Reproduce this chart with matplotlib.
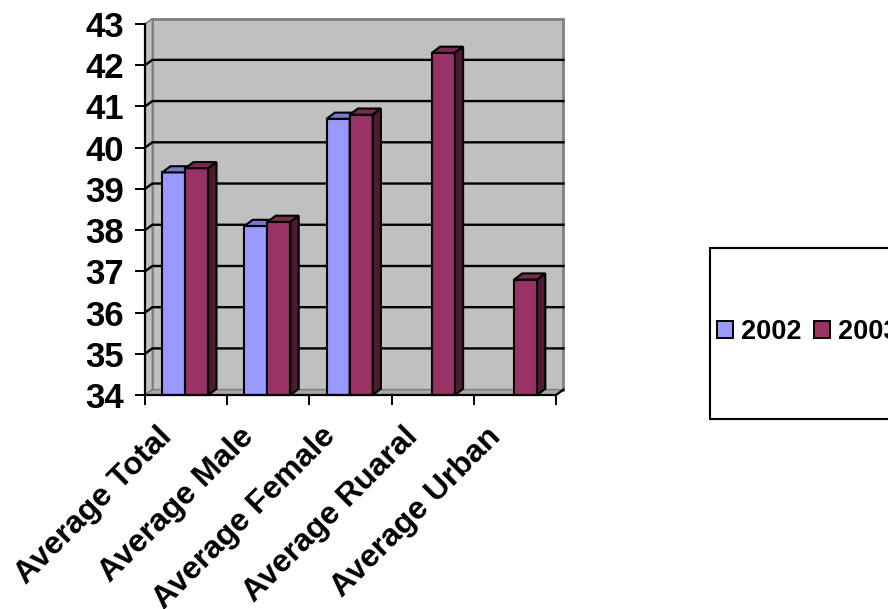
import numpy as np
import matplotlib
matplotlib.use("Agg")
import matplotlib.pyplot as plt
from matplotlib.patches import Polygon, Rectangle, Patch

plt.rcParams['font.family'] = ['Liberation Sans', 'DejaVu Sans']
plt.rcParams['font.weight'] = 'bold'

categories = ["Average Total", "Average Male", "Average Female", "Average Ruaral", "Average Urban"]
series = ["2002", "2003"]
vals_2002 = [39.4, 38.1, 40.7, np.nan, np.nan]
vals_2003 = [39.5, 38.2, 40.8, 42.3, 36.8]
yticks = [34, 35, 36, 37, 38, 39, 40, 41, 42, 43]

front = ["#9999FF", "#993366"]
tops = ["#7777CC", "#7A2952"]
sides = ["#4D4D80", "#4D1A33"]

W, H = 888, 609
fig = plt.figure(figsize=(W / 100, H / 100), dpi=100)
# front plane of the plot area, in pixels
x0, x1, yb, yt = 145, 556, 395, 24
ax = fig.add_axes([x0 / W, 1 - yb / H, (x1 - x0) / W, (yb - yt) / H])
ymin, ymax = 34, 43
n = len(categories)
ax.set_xlim(0, n)
ax.set_ylim(ymin, ymax)
for s in ax.spines.values():
    s.set_visible(False)

# wall depth
wdx, wdy = 0.09, 0.13
# bar depth
bdx, bdy = 0.10, 0.15

wallc = "#C0C0C0"
edgec = "#808080"
# back wall
ax.add_patch(Rectangle((wdx, ymin + wdy), n, ymax - ymin, fc=wallc, ec=edgec, lw=2, zorder=0, clip_on=False))
# left wall
ax.add_patch(Polygon([(0, ymin), (wdx, ymin + wdy), (wdx, ymax + wdy), (0, ymax)],
                     closed=True, fc=wallc, ec=edgec, lw=1.2, zorder=0, clip_on=False))
# floor
ax.add_patch(Polygon([(0, ymin), (n, ymin), (n + wdx, ymin + wdy), (wdx, ymin + wdy)],
                     closed=True, fc="#A8A8A8", ec=edgec, lw=1.2, zorder=0, clip_on=False))

# gridlines on walls
for v in yticks[1:-1]:
    ax.plot([0, wdx, n + wdx], [v, v + wdy, v + wdy], color="black", lw=1.7, zorder=1, clip_on=False)

# bars
bw = 0.28
offs = [0.21, 0.49]
for i in range(n):
    for k, vals in enumerate([vals_2002, vals_2003]):
        h = vals[i]
        if np.isnan(h):
            continue
        a = i + offs[k]
        b = a + bw
        z = 3 + i * 2 + k
        ax.add_patch(Polygon([(a, ymin), (b, ymin), (b, h), (a, h)], closed=True,
                             fc=front[k], ec="black", lw=1.5, zorder=z, clip_on=False))
        ax.add_patch(Polygon([(a, h), (b, h), (b + bdx, h + bdy), (a + bdx, h + bdy)], closed=True,
                             fc=tops[k], ec="black", lw=1.5, zorder=z, clip_on=False))
        ax.add_patch(Polygon([(b, ymin), (b + bdx, ymin + bdy), (b + bdx, h + bdy), (b, h)], closed=True,
                             fc=sides[k], ec="black", lw=1.5, zorder=z, clip_on=False))

# axes lines
ax.plot([0, 0], [ymin, ymax], color="black", lw=1.6, zorder=20, clip_on=False)
ax.plot([0, n, n + wdx], [ymin, ymin, ymin + wdy], color="black", lw=1.6, zorder=20, clip_on=False)

ax.set_yticks(yticks)
ax.set_yticklabels([str(t) for t in yticks], fontsize=25, fontweight='bold')
ax.tick_params(axis='y', length=7, width=1.4, pad=8, direction='out')
ax.set_xticks(range(n + 1))
ax.set_xticklabels([])
ax.tick_params(axis='x', length=7, width=1.4, direction='out')

for i, c in enumerate(categories):
    ax.text(i + 0.27, ymin - 0.9, c, rotation=45, ha='right', va='center',
            rotation_mode='anchor', fontsize=23, fontweight='bold', clip_on=False)

# legend
fig.add_artist(Rectangle((710 / W, 1 - 419 / H), 0.3, (419 - 248) / H, transform=fig.transFigure,
                         fc="white", ec="black", lw=1.5))
handles = [Patch(fc=front[k], ec="black", lw=1.4) for k in range(2)]
fig.legend(handles, series, loc='center left', bbox_to_anchor=(717 / W, 1 - 332 / H),
           ncol=2, frameon=False, prop={'size': 19.5, 'weight': 'bold'},
           handlelength=0.6, handleheight=0.6, handletextpad=0.3,
           columnspacing=0.45, borderpad=0, borderaxespad=0)

fig.savefig("out.png", dpi=100)
